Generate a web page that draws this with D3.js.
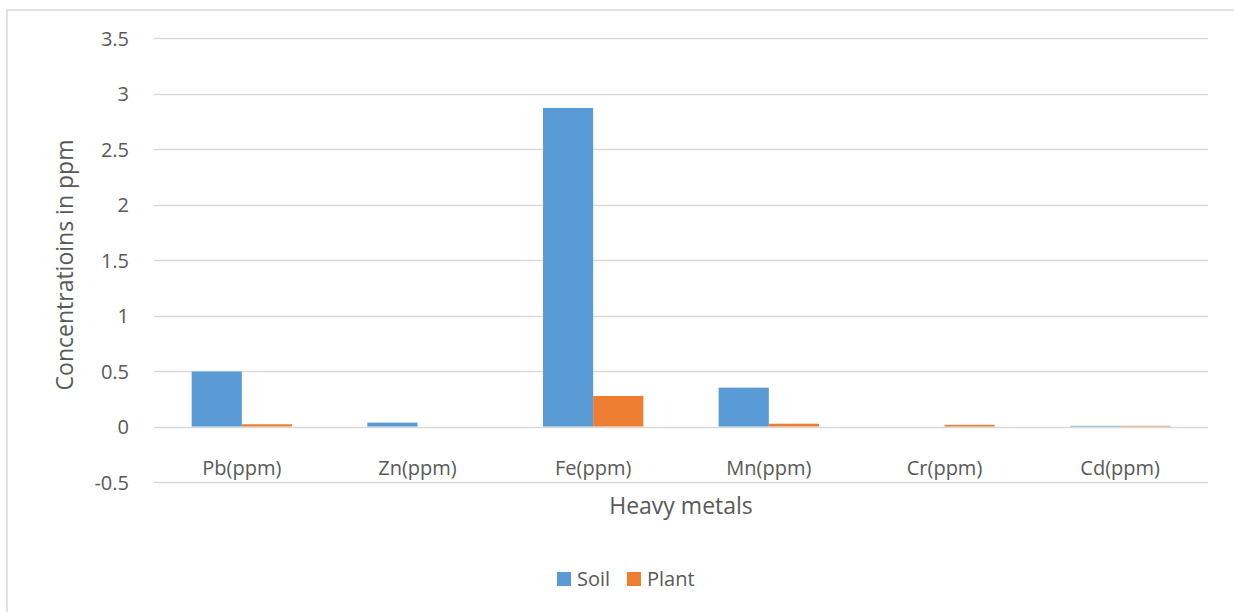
<!DOCTYPE html>
<html><head><meta charset="utf-8">
<script src="https://cdn.jsdelivr.net/npm/d3@7"></script>
<style>body{margin:0;background:#fff}svg{display:block}text{font-family:"Open Sans",sans-serif;fill:#595959}</style>
</head><body><svg id="c" width="1234" height="612"></svg>
<script>
const categories = ["Pb(ppm)","Zn(ppm)","Fe(ppm)","Mn(ppm)","Cr(ppm)","Cd(ppm)"];
const seriesNames = ["Soil","Plant"];
const soil = [0.495, 0.035, 2.87, 0.35, 0, 0.006];
const plant = [0.02, 0, 0.275, 0.025, 0.015, 0.006];
const yTicks = [-0.5,0,0.5,1,1.5,2,2.5,3,3.5];
const colors = ["#5b9bd5","#ed7d31"];

const svg = d3.select("#c");
svg.append("rect").attr("x",7).attr("y",10).attr("width",1240).attr("height",620)
  .attr("fill","#fff").attr("stroke","#d9d9d9").attr("stroke-width",1.5);

const left=154,right=1208;
const y = d3.scaleLinear().domain([-0.5,3.5]).range([482,38]);
const x0 = d3.scaleBand().domain(categories).range([left,right]).paddingInner(0).paddingOuter(0);
const bw = x0.bandwidth()/3.5;
const x1 = d3.scaleBand().domain(seriesNames).range([0.75*bw, 2.75*bw]);

const g = svg.append("g");
g.selectAll("line.grid").data(yTicks).join("line")
  .attr("x1",left).attr("x2",right).attr("y1",d=>Math.round(y(d))+0.5).attr("y2",d=>Math.round(y(d))+0.5)
  .attr("stroke","#d9d9d9").attr("stroke-width",1.5);

const yAxis = d3.axisLeft(y).tickValues(yTicks).tickSize(0).tickPadding(0).tickFormat(d=>String(d));
const ya = g.append("g").attr("transform",`translate(${left-25},0)`).call(yAxis);
ya.select(".domain").remove();
ya.selectAll("text").style("font-size","20px").attr("fill","#595959").attr("dy","0.36em");

const data = categories.map((c,i)=>({c, vals:[soil[i],plant[i]]}));
const grp = g.selectAll("g.cat").data(data).join("g").attr("transform",d=>`translate(${x0(d.c)},0)`);
grp.selectAll("rect").data(d=>d.vals.map((v,j)=>({v,s:seriesNames[j],j}))).join("rect")
  .attr("x",d=>x1(d.s)).attr("width",x1.bandwidth())
  .attr("y",d=>y(Math.max(0,d.v))).attr("height",d=>Math.abs(y(d.v)-y(0)))
  .attr("fill",d=>colors[d.j]);

const xAxis = d3.axisBottom(x0).tickSize(0).tickPadding(0);
const xa = g.append("g").attr("transform",`translate(0,475)`).call(xAxis);
xa.select(".domain").remove();
xa.selectAll("text").style("font-size","20px").attr("fill","#595959").attr("dy","0").attr("y",0);

svg.append("text").attr("x",681).attr("y",514).attr("text-anchor","middle").style("font-size","23px").text("Heavy metals");
svg.append("text").attr("transform","translate(73,265) rotate(-90)").attr("text-anchor","middle").style("font-size","23px").text("Concentratioins in ppm");

const lg = svg.append("g");
const legendItems = [{n:"Soil",x:557},{n:"Plant",x:627}];
legendItems.forEach((it,i)=>{
  lg.append("rect").attr("x",it.x).attr("y",572).attr("width",14).attr("height",14).attr("fill",colors[i]);
  lg.append("text").attr("x",it.x+20).attr("y",586).style("font-size","20px").text(it.n);
});
</script></body></html>
